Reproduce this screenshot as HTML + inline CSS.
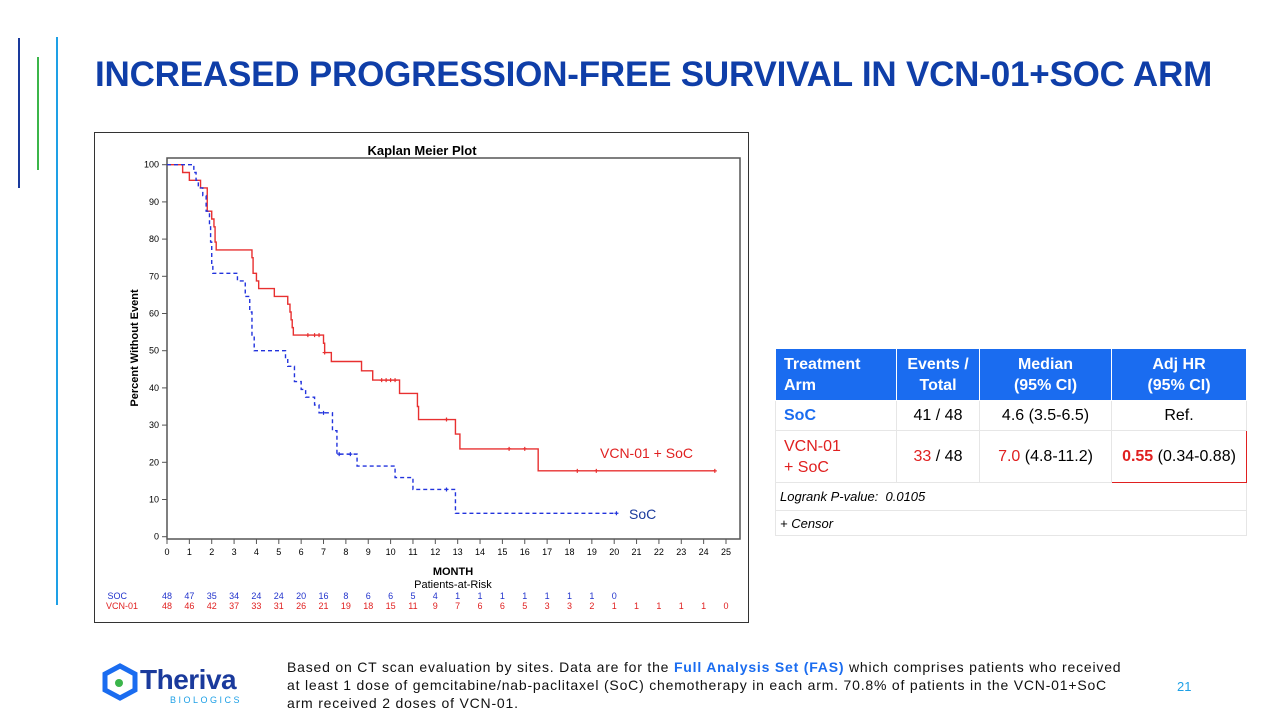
<!DOCTYPE html>
<html><head><meta charset="utf-8"><style>
body{margin:0;width:1280px;height:720px;overflow:hidden;background:#fff;font-family:"Liberation Sans",Arial,sans-serif;position:relative}
.abs{position:absolute}
table{border-collapse:collapse;font-size:16px}
td{border:1px solid #e6e6e6;text-align:center;padding:0}
</style></head><body>
<div class="abs" style="left:18px;top:38px;width:2px;height:150px;background:#1a3a9c"></div>
<div class="abs" style="left:37px;top:57px;width:2px;height:113px;background:#3bb54a"></div>
<div class="abs" style="left:56px;top:37px;width:2px;height:568px;background:#1ea0e6"></div>
<div class="abs" style="left:95px;top:55px;font-size:35px;font-weight:bold;color:#0f3ea8;letter-spacing:-0.2px;white-space:nowrap">INCREASED PROGRESSION-FREE SURVIVAL IN VCN-01+SOC ARM</div>

<svg class="abs" style="left:0;top:0" width="1280" height="720" id="km">
<rect x="94.5" y="132.5" width="654" height="490" fill="none" stroke="#333" stroke-width="1"/>
<text x="422" y="155" text-anchor="middle" font-size="13" font-weight="bold" fill="#000">Kaplan Meier Plot</text>
<rect x="167" y="158" width="573" height="381" fill="none" stroke="#555" stroke-width="1.5"/>
<text transform="translate(138,348) rotate(-90)" text-anchor="middle" font-size="11" font-weight="bold">Percent Without Event</text>
<text x="453" y="575" text-anchor="middle" font-size="11" font-weight="bold">MONTH</text>
<text x="453" y="588" text-anchor="middle" font-size="11">Patients-at-Risk</text>
<text x="127" y="599" text-anchor="end" font-size="9" fill="#2233cc">SOC</text>
<text x="138" y="609" text-anchor="end" font-size="9" fill="#e02020">VCN-01</text>
<text x="600" y="458" font-size="14" fill="#e02020">VCN-01 + SoC</text>
<text x="629" y="519" font-size="14" fill="#1a3a9c">SoC</text>
<g id="g"></g>
</svg>

<table class="abs" style="left:775px;top:348px;width:472px">
<tr style="height:52px;background:#1a6cf0;color:#fff;font-weight:bold;font-size:16px;line-height:21px">
<td style="width:112px;text-align:left;padding-left:8px;border-color:#fff">Treatment<br>Arm</td>
<td style="width:82px;border-color:#fff">Events /<br>Total</td>
<td style="width:131px;border-color:#fff">Median<br>(95% CI)</td>
<td style="border-color:#fff">Adj HR<br>(95% CI)</td></tr>
<tr style="height:30px"><td style="text-align:left;padding-left:8px;color:#1a6cf0;font-weight:bold">SoC</td><td>41 / 48</td><td>4.6 (3.5-6.5)</td><td>Ref.</td></tr>
<tr style="height:52px;line-height:21px"><td style="text-align:left;padding-left:8px;color:#e02020">VCN-01<br>+ SoC</td><td><span style="color:#e02020">33</span> / 48</td><td><span style="color:#e02020">7.0</span> (4.8-11.2)</td><td style="border:1.5px solid #e02020"><b style="color:#e02020">0.55</b> (0.34-0.88)</td></tr>
<tr style="height:28px"><td colspan="4" style="text-align:left;padding-left:4px;font-style:italic;font-size:13px">Logrank P-value:&nbsp; 0.0105</td></tr>
<tr style="height:25px"><td colspan="4" style="text-align:left;padding-left:4px;font-style:italic;font-size:13px">+ Censor</td></tr>
</table>

<div class="abs" style="left:102px;top:662px;width:160px;height:45px">
<svg width="38" height="38" style="position:absolute;left:0;top:1px"><polygon points="18,3 33,11 33,27 18,35 3,27 3,11" fill="none" stroke="#1a6cf0" stroke-width="5"/><circle cx="17" cy="20" r="4" fill="#3bb54a"/></svg>
<div style="position:absolute;left:38px;top:2px;font-size:28px;font-weight:bold;color:#1a3a9c;letter-spacing:-0.5px">Theriva</div>
<div style="position:absolute;left:68px;top:33px;font-size:9px;color:#1ea0e6;letter-spacing:2.5px">BIOLOGICS</div>
</div>
<div class="abs" style="left:287px;top:658px;white-space:nowrap;font-size:14px;letter-spacing:0.8px;line-height:18px;color:#111">Based on CT scan evaluation by sites. Data are for the <b style="color:#1a6cf0">Full Analysis Set (FAS)</b> which comprises patients who received<br>at least 1 dose of gemcitabine/nab-paclitaxel (SoC) chemotherapy in each arm. 70.8% of patients in the VCN-01+SoC<br>arm received 2 doses of VCN-01.</div>
<div class="abs" style="left:1177px;top:679px;font-size:13px;color:#1ea0e6">21</div>

<script>
const months=[0,1,2,3,4,5,6,7,8,9,10,11,12,13,14,15,16,17,18,19,20,21,22,23,24,25];
const yTicks=[0,10,20,30,40,50,60,70,80,90,100];
const vcnT=[0,0.7,1,1.5,1.8,2.0,2.1,2.15,2.2,3.8,3.85,4.0,4.1,4.8,5.4,5.5,5.55,5.6,5.65,7.0,7.05,7.35,8.7,9.2,10.4,11.2,11.25,12.9,13.1,16.6,24.5];
const vcnS=[100,97.9,95.8,93.75,87.5,85.4,83.3,79.2,77.1,75,70.8,68.75,66.7,64.6,62.5,60.4,58.3,56.2,54.2,52,49.5,47.1,44.6,42.1,38.5,35,31.5,27.6,23.6,17.7,17.7];
const vcnCensT=[6.3,6.6,6.8,7.05,9.6,9.8,10,10.2,12.5,15.3,16,18.35,19.2,24.5];
const vcnCensS=[54.2,54.2,54.2,49.5,42.1,42.1,42.1,42.1,31.5,23.6,23.6,17.7,17.7,17.7];
const socT=[0,1.2,1.3,1.4,1.6,1.75,1.9,1.95,2.0,2.05,3.15,3.5,3.7,3.8,3.9,5.3,5.4,5.7,6.0,6.2,6.6,6.8,7.4,7.6,8.5,10.2,11.0,12.9,20.1];
const socS=[100,97.9,95.8,93.75,91.7,87.5,83.3,79.2,72.9,70.8,68.75,64.6,60.4,54.2,50,47.9,45.8,41.7,39.6,37.5,35.4,33.3,28.5,22.2,19,15.9,12.7,6.3,6.3];
const socCensT=[7.0,7.7,8.2,12.5,20.1];
const socCensS=[33.3,22.2,22.2,12.7,6.3];
const riskSoc=[48,47,35,34,24,24,20,16,8,6,6,5,4,1,1,1,1,1,1,1,0];
const riskVcn=[48,46,42,37,33,31,26,21,19,18,15,11,9,7,6,6,5,3,3,2,1,1,1,1,1,0];
const X=t=>167+t*22.36, Y=s=>536.7-s*3.72;
const g=document.getElementById('g'), NS='http://www.w3.org/2000/svg';
function mk(tag,a){const e=document.createElementNS(NS,tag);for(const k in a)e.setAttribute(k,a[k]);g.appendChild(e);return e;}
months.forEach(m=>{
 const l=mk('line',{x1:X(m),x2:X(m),y1:539,y2:544,stroke:'#555'});
 
 
 const t=mk('text',{x:X(m),y:555,'text-anchor':'middle','font-size':9});t.textContent=m;
 
 
});
yTicks.forEach(v=>{
 const l=mk('line',{x1:162,x2:167,y1:Y(v),y2:Y(v),stroke:'#555'});
 
 
 const t=mk('text',{x:159,y:Y(v)+3,'text-anchor':'end','font-size':9});t.textContent=v;
 
 
});
function step(T,S){let d='M'+X(T[0])+','+Y(S[0]);for(let i=1;i<T.length;i++){d+=' H'+X(T[i])+' V'+Y(S[i]);}return d;}
const pv=mk('path',{d:step(vcnT,vcnS),fill:'none',stroke:'#e83030','stroke-width':1.4});


const ps=mk('path',{d:step(socT,socS),fill:'none',stroke:'#2233dd','stroke-width':1.4,'stroke-dasharray':'4,3'});


function cens(T,S,c,n){T.forEach((t,i)=>{const p=mk('path',{d:`M${X(t)-2},${Y(S[i])} h4 M${X(t)},${Y(S[i])-2} v4`,stroke:c,'stroke-width':1.2});
 
 });}
cens(vcnCensT,vcnCensS,'#e83030','vcn-censor');
cens(socCensT,socCensS,'#2233dd','soc-censor');
riskSoc.forEach((v,i)=>{const t=mk('text',{x:X(i),y:599,'text-anchor':'middle','font-size':9,fill:'#2233cc'});t.textContent=v;
 
 });
riskVcn.forEach((v,i)=>{const t=mk('text',{x:X(i),y:609,'text-anchor':'middle','font-size':9,fill:'#e02020'});t.textContent=v;
 
 });
</script>
</body></html>
